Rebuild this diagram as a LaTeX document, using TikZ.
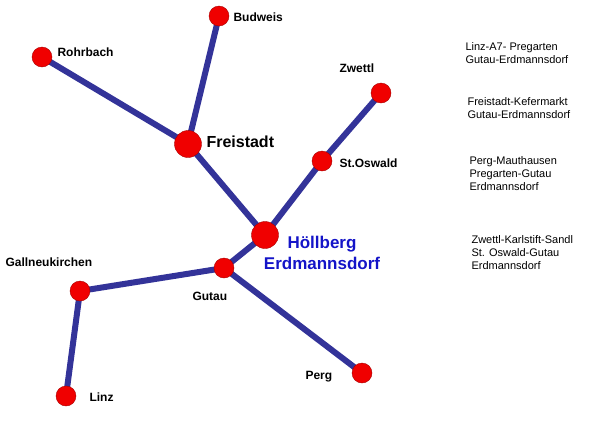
\documentclass[tikz,border=0pt]{standalone}
\usepackage{fontspec}
\setmainfont{Liberation Sans}
\definecolor{route}{RGB}{51,51,153}
\definecolor{town}{RGB}{240,0,0}
\definecolor{hb}{RGB}{20,20,200}
\tikzset{
  stop/.style={circle, fill=town, draw=town!70!black, inner sep=0pt, minimum size=20pt},
  bigstop/.style={stop, minimum size=27pt},
  rail/.style={route, line width=6pt},
  lbl/.style={font=\bfseries\fontsize{12}{13}\selectfont, anchor=west},
  info/.style={font=\fontsize{11}{13}\selectfont, align=left, anchor=north west}
}
\begin{document}
\begin{tikzpicture}[x=1pt, y=-1pt]
  \useasboundingbox (0,0) rectangle (616,437);
  % Orte
  \coordinate (budweis) at (219,16);
  \coordinate (rohrbach) at (42,57);
  \coordinate (zwettl) at (381,93);
  \coordinate (freistadt) at (188,144);
  \coordinate (oswald) at (322,161);
  \coordinate (hoellberg) at (265,235);
  \coordinate (gutau) at (224,268);
  \coordinate (gallneu) at (80,291);
  \coordinate (perg) at (362,373);
  \coordinate (linz) at (66,396);
  % Strecken
  \draw[rail] (rohrbach) -- (freistadt) -- (budweis);
  \draw[rail] (freistadt) -- (hoellberg) -- (oswald) -- (zwettl);
  \draw[rail] (hoellberg) -- (gutau) -- (gallneu) -- (linz);
  \draw[rail] (gutau) -- (perg);
  % Punkte
  \foreach \p in {budweis, rohrbach, zwettl, oswald, gutau, gallneu, perg, linz}
    \node[stop] (n-\p) at (\p) {};
  \node[bigstop] (n-freistadt) at (freistadt) {};
  \node[bigstop] (n-hoellberg) at (hoellberg) {};
  % Namen
  \node[lbl] at (230,17) {Budweis};
  \node[lbl] at (54,52) {Rohrbach};
  \node[lbl] at (336,68) {Zwettl};
  \node[lbl, font=\bfseries\fontsize{16}{18}\selectfont] at (203,142) {Freistadt};
  \node[lbl] at (336,163) {St.Oswald};
  \node[lbl] at (2,262) {Gallneukirchen};
  \node[lbl] at (189,296) {Gutau};
  \node[lbl] at (302,377) {Perg};
  \node[lbl] at (86,397) {Linz};
  \node[font=\bfseries\fontsize{17}{21}\selectfont, text=hb, align=center] (n-name) at (322,253) {Höllberg\\Erdmannsdorf};
  % Linien
  \node[info] at (462,39) {Linz-A7- Pregarten\\Gutau-Erdmannsdorf};
  \node[info] at (464,94) {Freistadt-Kefermarkt\\Gutau-Erdmannsdorf};
  \node[info] at (466,153) {Perg-Mauthausen\\Pregarten-Gutau\\Erdmannsdorf};
  \node[info] at (468,232) {Zwettl-Karlstift-Sandl\\St. Oswald-Gutau\\Erdmannsdorf};
\end{tikzpicture}
\end{document}
